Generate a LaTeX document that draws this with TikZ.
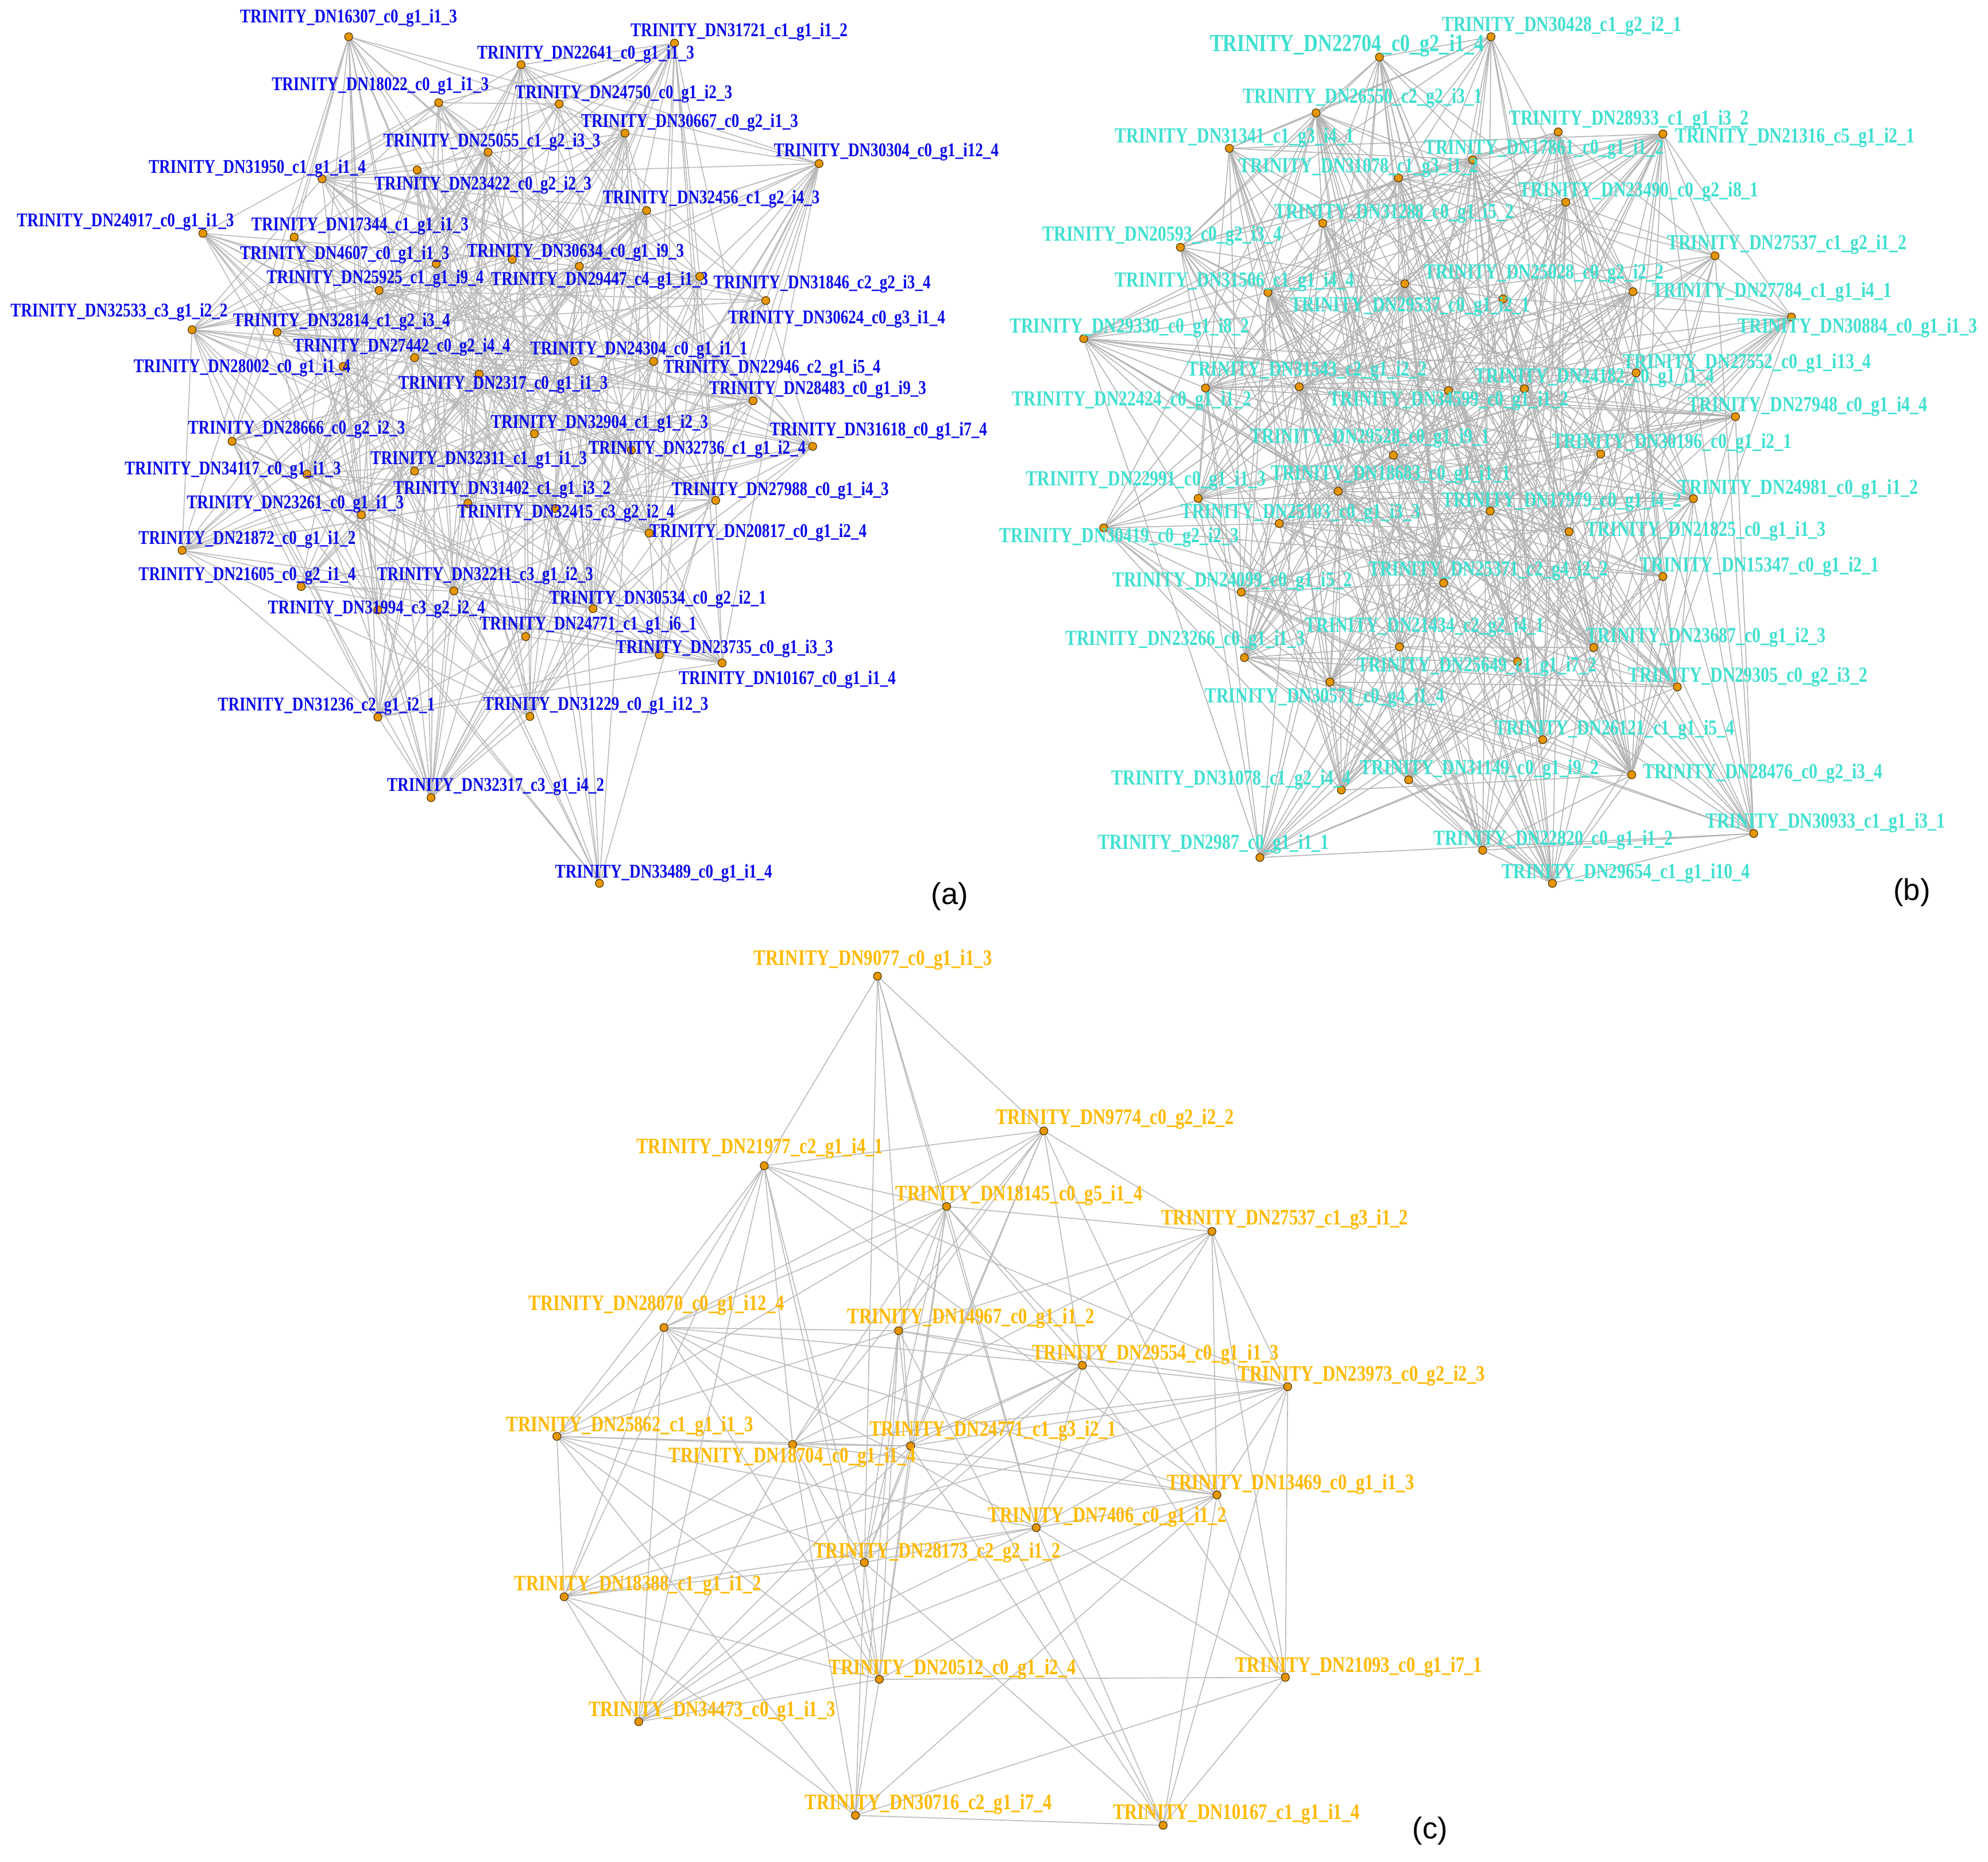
\documentclass[tikz,border=0pt]{standalone}
\usepackage{fontspec}
\setmainfont{Liberation Serif}
\newfontfamily\labfont[FakeStretch=0.8]{Liberation Serif}
\newfontfamily\letfont{Liberation Sans}
\definecolor{ablue}{RGB}{10,10,235}
\definecolor{bcyan}{RGB}{64,224,208}
\definecolor{corange}{RGB}{255,185,0}
\definecolor{dotfill}{RGB}{230,150,0}
\definecolor{dotline}{RGB}{80,50,0}
\definecolor{edgec}{RGB}{185,185,185}
\definecolor{edgeb}{RGB}{178,178,178}
\pgfdeclarelayer{bg}
\pgfsetlayers{bg,main}
\tikzset{
 dot/.style={circle, inner sep=0pt, minimum size=3.6pt, fill=dotfill, draw=dotline, line width=0.3pt},
 edge/.style={draw=edgec, line width=0.4pt},
 edgebb/.style={draw=edgeb, line width=0.4pt},
 lab/.style={anchor=west, inner sep=0pt},
 laba/.style={lab, text=ablue, font=\labfont\bfseries\fontsize{8.7}{9}\selectfont},
 labb/.style={lab, text=bcyan, font=\labfont\bfseries\fontsize{9.6}{10}\selectfont},
 labbig/.style={lab, text=bcyan, font=\labfont\bfseries\fontsize{11}{12}\selectfont},
 labc/.style={lab, text=corange, font=\labfont\bfseries\fontsize{9.9}{10}\selectfont},
 panel/.style={font=\letfont\fontsize{13.5}{14}\selectfont, inner sep=0pt}
}
\begin{document}
\begin{tikzpicture}[x=0.567pt,y=-0.567pt]
\useasboundingbox (0,0) rectangle (1568,1468);
% ---------------- panel (a)
\foreach \k/\lx/\ly/\px/\py/\txt in {
1/189/14.3/275/29/DN16307\_c0\_g1\_i1\_3,
2/497/25/532/34/DN31721\_c1\_g1\_i1\_2,
3/376/42.7/411/51/DN22641\_c0\_g1\_i1\_3,
4/214/67.5/346/81/DN18022\_c0\_g1\_i1\_3,
5/406/74/441/82/DN24750\_c0\_g1\_i2\_3,
6/458/96.6/493/105/DN30667\_c0\_g2\_i1\_3,
7/302/112/385/120/DN25055\_c1\_g2\_i3\_3,
8/610/120/646/129/DN30304\_c0\_g1\_i12\_4,
9/117/133/254/141/DN31950\_c1\_g1\_i1\_4,
10/295/146/329/134/DN23422\_c0\_g2\_i2\_3,
11/475/157/510/166/DN32456\_c1\_g2\_i4\_3,
12/13/175/160/184/DN24917\_c0\_g1\_i1\_3,
13/198/178.4/232/187/DN17344\_c1\_g1\_i1\_3,
14/189/201/344/208/DN4607\_c0\_g1\_i1\_3,
15/368/199.2/404/204.5/DN30634\_c0\_g1\_i9\_3,
16/210/220/299/229/DN25925\_c1\_g1\_i9\_4,
17/387/221.4/457/210/DN29447\_c4\_g1\_i1\_3,
18/562.5/224/604/237/DN31846\_c2\_g2\_i3\_4,
19/8/246/151.5/260/DN32533\_c3\_g1\_i2\_2,
20/574/251.4/552/218/DN30624\_c0\_g3\_i1\_4,
21/183.5/254/218.5/262/DN32814\_c1\_g2\_i3\_4,
22/231/274/327/282/DN27442\_c0\_g2\_i4\_4,
23/418/276/453/285/DN24304\_c0\_g1\_i1\_1,
24/105/290/270.6/289/DN28002\_c0\_g1\_i1\_4,
25/523/290.7/515.5/285/DN22946\_c2\_g1\_i5\_4,
26/314/303/378/295/DN2317\_c0\_g1\_i1\_3,
27/559/307.3/594/316/DN28483\_c0\_g1\_i9\_3,
28/387/334/421.5/342/DN32904\_c1\_g1\_i2\_3,
29/148/338.5/183/348/DN28666\_c0\_g2\_i2\_3,
30/607/340/641/352/DN31618\_c0\_g1\_i7\_4,
31/464/354.6/498/355/DN32736\_c1\_g1\_i2\_4,
32/292/362.7/327/371.5/DN32311\_c1\_g1\_i1\_3,
33/98/370.8/242/374/DN34117\_c0\_g1\_i1\_3,
34/310/386/369/397/DN31402\_c1\_g1\_i3\_2,
35/529.5/387/564.5/394.6/DN27988\_c0\_g1\_i4\_3,
36/147/397.3/285/406/DN23261\_c0\_g1\_i1\_3,
37/360.4/404.5/438/401/DN32415\_c3\_g2\_i2\_4,
38/109/425.5/143.6/434/DN21872\_c0\_g1\_i1\_2,
39/512/420/512/420.4/DN20817\_c0\_g1\_i2\_4,
40/109/454/237.6/462.5/DN21605\_c0\_g2\_i1\_4,
41/297/454/358/466/DN32211\_c3\_g1\_i2\_3,
42/433/472.4/467.7/480/DN30534\_c0\_g2\_i2\_1,
43/211/480.5/298/481/DN31994\_c3\_g2\_i2\_4,
44/378/493.2/414.6/502/DN24771\_c1\_g1\_i6\_1,
45/485.5/511.7/520/516.3/DN23735\_c0\_g1\_i3\_3,
46/535/536/569.6/522.8/DN10167\_c0\_g1\_i1\_4,
47/171.5/556.8/298/565.5/DN31236\_c2\_g1\_i2\_1,
48/381/556.3/418/565/DN31229\_c0\_g1\_i12\_3,
49/305/620.3/340/629/DN32317\_c3\_g1\_i4\_2,
50/437.5/688.5/472.8/696.6/DN33489\_c0\_g1\_i1\_4}{
  \node[dot] (a\k) at (\px,\py) {};
  \node[laba] (la\k) at (\lx,\ly) {TRINITY\_\txt};
}
% ---------------- panel (b)
\node[dot] (b2) at (1088,45) {};
\node[labbig] (lb2) at (954,35.8) {TRINITY\_DN22704\_c0\_g2\_i1\_4};
\foreach \k/\lx/\ly/\px/\py/\txt in {
1/1137/20.8/1176/29/DN30428\_c1\_g2\_i2\_1,
3/980/77.4/1038/89/DN26550\_c2\_g2\_i3\_1,
4/1190/94.7/1229/104/DN28933\_c1\_g1\_i3\_2,
5/1321/108.6/1311.6/105.6/DN21316\_c5\_g1\_i2\_1,
6/879/108.6/969.6/117/DN31341\_c1\_g3\_i4\_1,
7/1123/117.8/1161.5/126/DN17861\_c0\_g1\_i1\_2,
8/977/132.2/1103/140.3/DN31078\_c1\_g3\_i1\_2,
9/1198/151.3/1235/159.4/DN23490\_c0\_g2\_i8\_1,
10/1004.7/168.2/1043.3/176/DN31288\_c0\_g1\_i5\_2,
11/822/186/931/195/DN20593\_c0\_g2\_i3\_4,
12/1314.6/193/1352.7/201.7/DN27537\_c1\_g2\_i1\_2,
13/1123/216/1108/223.7/DN25028\_c0\_g2\_i2\_2,
14/879/222.3/1000/230.6/DN31506\_c1\_g1\_i4\_4,
15/1303/230.6/1288/230/DN27784\_c1\_g1\_i4\_1,
16/1017.4/241.5/1185.5/235.7/DN29537\_c0\_g1\_i2\_1,
17/796/258.3/854.7/267/DN29330\_c0\_g1\_i8\_2,
18/1370.5/258.3/1413/250/DN30884\_c0\_g1\_i1\_3,
19/936/292.3/1024.7/305/DN31543\_c2\_g1\_i2\_2,
20/1163/298/1202.3/306.6/DN24182\_c0\_g1\_i1\_4,
21/1280/286.5/1290.5/294/DN27552\_c0\_g1\_i13\_4,
22/798/316/950.8/306/DN22424\_c0\_g1\_i1\_2,
23/1048/316/1142.4/308/DN34599\_c0\_g1\_i1\_2,
24/1331/320.7/1368.8/328.6/DN27948\_c0\_g1\_i4\_4,
25/986/345.4/1099/359/DN29528\_c0\_g1\_i9\_1,
26/1224/349.4/1262.5/358/DN30196\_c0\_g1\_i2\_1,
27/809/378.9/945/393/DN22991\_c0\_g1\_i1\_3,
28/1002/374.2/1055.5/387.4/DN18683\_c0\_g1\_i1\_1,
29/1323.5/385.8/1335.7/393.2/DN24981\_c0\_g1\_i1\_2,
30/1137/395.5/1175.4/403/DN17979\_c0\_g1\_i4\_2,
31/931/404.7/1009/412.8/DN25103\_c0\_g1\_i3\_3,
32/788/423.9/870.5/416.3/DN30419\_c0\_g2\_i2\_3,
33/1251/418.6/1237.6/419.3/DN21825\_c0\_g1\_i1\_3,
34/1079/450/1138.6/459.7/DN25371\_c2\_g4\_i2\_2,
35/1293/447/1311.6/454.6/DN15347\_c0\_g1\_i2\_1,
36/877/458.6/979/467/DN24099\_c0\_g1\_i5\_2,
37/1029/494.5/1103.8/510/DN21434\_c2\_g2\_i4\_1,
38/1251/502.5/1257/510.6/DN23687\_c0\_g1\_i2\_3,
39/840/504.8/981.5/518.6/DN23266\_c0\_g1\_i1\_3,
40/1070/525.6/1197/521.7/DN25649\_c1\_g1\_i7\_2,
41/1284/533.7/1323/541.7/DN29305\_c0\_g2\_i3\_2,
42/950/550.3/1049/537.8/DN30571\_c0\_g4\_i1\_4,
43/1178.7/575.3/1216.8/583.3/DN26121\_c1\_g1\_i5\_4,
44/1072.5/606.8/1111/615/DN31149\_c0\_g1\_i9\_2,
45/1295.6/610/1287/611/DN28476\_c0\_g2\_i3\_4,
46/876.3/615/1058/623/DN31078\_c1\_g2\_i4\_4,
47/866/665.8/993.7/676.2/DN2987\_c0\_g1\_i1\_1,
48/1130.2/662.6/1169.4/670.5/DN22820\_c0\_g1\_i1\_2,
49/1345/648.7/1383.2/657.3/DN30933\_c1\_g1\_i3\_1,
50/1184.3/688.5/1224.4/696.6/DN29654\_c1\_g1\_i10\_4}{
  \node[dot] (b\k) at (\px,\py) {};
  \node[labb] (lb\k) at (\lx,\ly) {TRINITY\_\txt};
}
% ---------------- panel (c)
\foreach \k/\lx/\ly/\px/\py/\txt in {
1/594.3/757.1/692.1/769.8/DN9077\_c0\_g1\_i1\_3,
2/785/882.6/823.3/891.8/DN9774\_c0\_g2\_i2\_2,
3/501.6/905.7/602.8/919.3/DN21977\_c2\_g1\_i4\_1,
4/706.1/942.7/746.6/951.4/DN18145\_c0\_g5\_i1\_4,
5/915.6/961.8/955.9/971.1/DN27537\_c1\_g3\_i1\_2,
6/416.6/1029.3/523.7/1046.9/DN28070\_c0\_g1\_i12\_4,
7/668/1039.7/708.7/1049.4/DN14967\_c0\_g1\_i1\_2,
8/813.7/1068.1/853.7/1076.7/DN29554\_c0\_g1\_i1\_3,
9/976.1/1084.8/1015.6/1093.5/DN23973\_c0\_g2\_i2\_3,
10/399/1124.9/439.2/1132.7/DN25862\_c1\_g1\_i1\_3,
11/685.5/1128.4/718.2/1140.3/DN24771\_c1\_g3\_i2\_1,
12/527.2/1149/625.2/1139.1/DN18704\_c0\_g1\_i1\_4,
13/920.2/1170.4/959.8/1178.9/DN13469\_c0\_g1\_i1\_3,
14/779.1/1196.4/817.3/1204.7/DN7406\_c0\_g1\_i1\_2,
15/641.5/1224.4/681.8/1232.2/DN28173\_c2\_g2\_i1\_2,
16/405.3/1250.4/445/1259.2/DN18388\_c1\_g1\_i1\_2,
17/653.6/1316.3/693.6/1324.3/DN20512\_c0\_g1\_i2\_4,
18/974/1314.4/1013.8/1322.7/DN21093\_c0\_g1\_i7\_1,
19/463.9/1349.4/503.8/1357.7/DN34473\_c0\_g1\_i1\_3,
20/634.5/1422.9/674.7/1431.6/DN30716\_c2\_g1\_i7\_4,
21/877.4/1430.4/917.4/1439.4/DN10167\_c1\_g1\_i1\_4}{
  \node[dot] (c\k) at (\px,\py) {};
  \node[labc] (lc\k) at (\lx,\ly) {TRINITY\_\txt};
}
% panel letters
\node[panel] (pa) at (749,707) {(a)};
\node[panel] (pb) at (1508,704) {(b)};
\node[panel] (pc) at (1128,1444) {(c)};
% ---------------- edges
\begin{pgfonlayer}{bg}
\pgfmathsetseed{11}
\foreach \i in {1,...,49}{
  \pgfmathtruncatemacro{\js}{\i+1}
  \foreach \j in {\js,...,50}{
    \pgfmathtruncatemacro{\ok}{rnd<0.3 ? 1 : 0}
    \ifnum\ok=1 \draw[edge] (a\i) -- (a\j);\fi
  }
}
\pgfmathsetseed{23}
\foreach \i in {1,...,49}{
  \pgfmathtruncatemacro{\js}{\i+1}
  \foreach \j in {\js,...,50}{
    \pgfmathtruncatemacro{\ok}{rnd<0.4 ? 1 : 0}
    \ifnum\ok=1 \draw[edgebb] (b\i) -- (b\j);\fi
  }
}
\foreach \u/\v in {1/2,1/3,1/4,1/11,1/14,1/15,
2/3,2/4,2/5,2/6,2/7,2/8,2/12,2/11,2/15,2/13,
3/4,3/6,3/10,3/16,3/19,3/12,3/15,3/17,3/9,3/13,
4/5,4/6,4/7,4/8,4/11,4/12,4/14,4/15,4/17,4/13,4/10,
5/8,5/7,5/12,5/14,5/13,5/18,5/9,
6/7,6/10,6/12,6/16,6/19,6/17,6/8,6/14,6/13,
7/8,7/10,7/11,7/15,7/17,7/20,7/21,7/9,
8/9,8/11,8/14,8/15,8/18,8/19,8/16,
9/11,9/12,9/13,9/18,9/14,9/16,9/21,
10/12,10/11,10/16,10/17,10/20,10/15,10/14,
11/12,11/15,11/17,11/19,11/13,11/21,
12/15,12/17,12/19,12/20,12/13,12/16,
13/14,13/18,13/19,13/20,13/17,13/21,
14/15,14/18,14/19,14/21,14/16,
15/16,15/17,15/20,15/21,15/19,
16/17,16/19,16/20,
17/18,17/20,17/19,
18/20,18/21,
20/21}{
  \draw[edge] (c\u) -- (c\v);
}
\end{pgfonlayer}
\end{tikzpicture}
\end{document}
